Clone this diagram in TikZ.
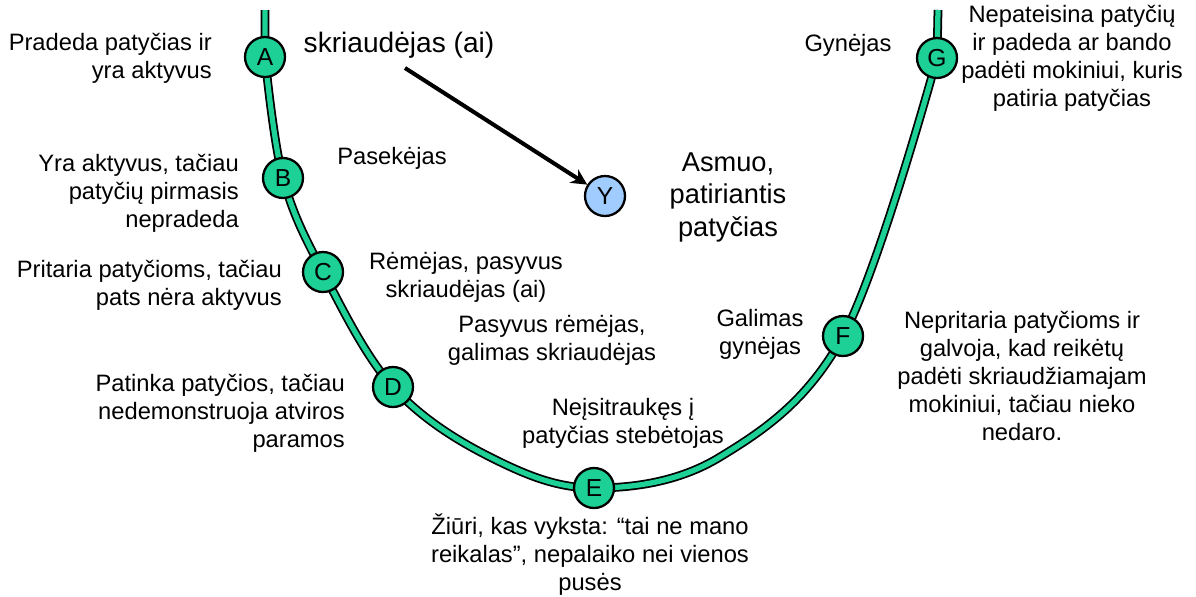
\documentclass[tikz,border=0pt]{standalone}
\usepackage{fontspec}
\setmainfont{Liberation Sans}
\usetikzlibrary{arrows.meta}

\definecolor{rolegreen}{RGB}{28,208,150}
\definecolor{targetblue}{RGB}{160,204,255}

\begin{document}
\begin{tikzpicture}[x=0.02cm,y=-0.02cm,>={Stealth[length=9pt,width=9pt]},
  font=\fontsize{13.5}{15.9}\selectfont]
  \tikzset{role/.style={circle,draw=black,line width=1.3pt,fill=rolegreen,
      minimum size=0.8cm,inner sep=0pt,font=\fontsize{14}{16}\selectfont},
    target/.style={role,fill=targetblue},
    label/.style={align=center},
    leftlabel/.style={align=right,anchor=east},
    big/.style={align=center,font=\fontsize{16}{17.6}\selectfont}}
  \useasboundingbox (0,0) rectangle (1196,596);
  % the circle of bullying
  \coordinate (topl) at (265,10);
  \coordinate (a) at (265,57);
  \coordinate (b) at (283,178);
  \coordinate (c) at (323,272);
  \coordinate (d) at (393,387);
  \coordinate (de) at (490,457);
  \coordinate (e) at (594,488);
  \coordinate (ef) at (720,457);
  \coordinate (f) at (843,336);
  \coordinate (g) at (937,58);
  \coordinate (topr) at (938,10);
  \draw[line width=1pt,double=rolegreen,double distance=3pt]
    (topl) -- plot[smooth,tension=0.6] coordinates {(a) (b) (c) (d) (de) (e) (ef) (f) (g)} -- (topr);
  \node[role] (A) at (a) {A};
  \node[role] (B) at (b) {B};
  \node[role] (C) at (c) {C};
  \node[role] (D) at (d) {D};
  \node[role] (E) at (e) {E};
  \node[role] (F) at (f) {F};
  \node[role] (G) at (g) {G};
  \node[target] (Y) at (605,196) {Y};
  % texts
  \node[leftlabel] (tA) at (218,58) {Pradeda patyčias ir\\yra aktyvus};
  \node[leftlabel] (tB) at (245,193) {Yra aktyvus, tačiau\\patyčių pirmasis\\nepradeda};
  \node[leftlabel] (tC) at (288,285) {Pritaria patyčioms, tačiau\\pats nėra aktyvus};
  \node[leftlabel] (tD) at (351,413) {Patinka patyčios, tačiau\\nedemonstruoja atviros\\paramos};
  \node[big] (bully) at (399,45) {skriaudėjas (ai)};
  \node[label] (follower) at (392,158) {Pasekėjas};
  \node[big,font=\fontsize{15.5}{18.5}\selectfont] (victim) at (728,197) {Asmuo,\\patiriantis\\patyčias};
  \node[label] (supporter) at (466,277) {Rėmėjas, pasyvus\\skriaudėjas (ai)};
  \node[label] (passive) at (552,340) {Pasyvus rėmėjas,\\galimas skriaudėjas};
  \node[label] (possible) at (760,334) {Galimas\\gynėjas};
  \node[label] (tF) at (1022,376) {Nepritaria patyčioms ir\\galvoja, kad reikėtų\\padėti skriaudžiamajam\\mokiniui, tačiau nieko\\nedaro.};
  \node[label] (onlooker) at (623,423) {Neįsitraukęs į\\patyčias stebėtojas};
  \node[label] (tE) at (590,555) {Žiūri, kas vyksta: “tai ne mano\\reikalas”, nepalaiko nei vienos\\pusės};
  \node[label] (defender) at (848,45) {Gynėjas};
  \node[label] (tG) at (1072,58) {Nepateisina patyčių\\ir padeda ar bando\\padėti mokiniui, kuris\\patiria patyčias};
  % arrow towards the target
  \coordinate (from) at (405,68);
  \draw[->,line width=2.3pt] (from) -- (Y);
\end{tikzpicture}
\end{document}
